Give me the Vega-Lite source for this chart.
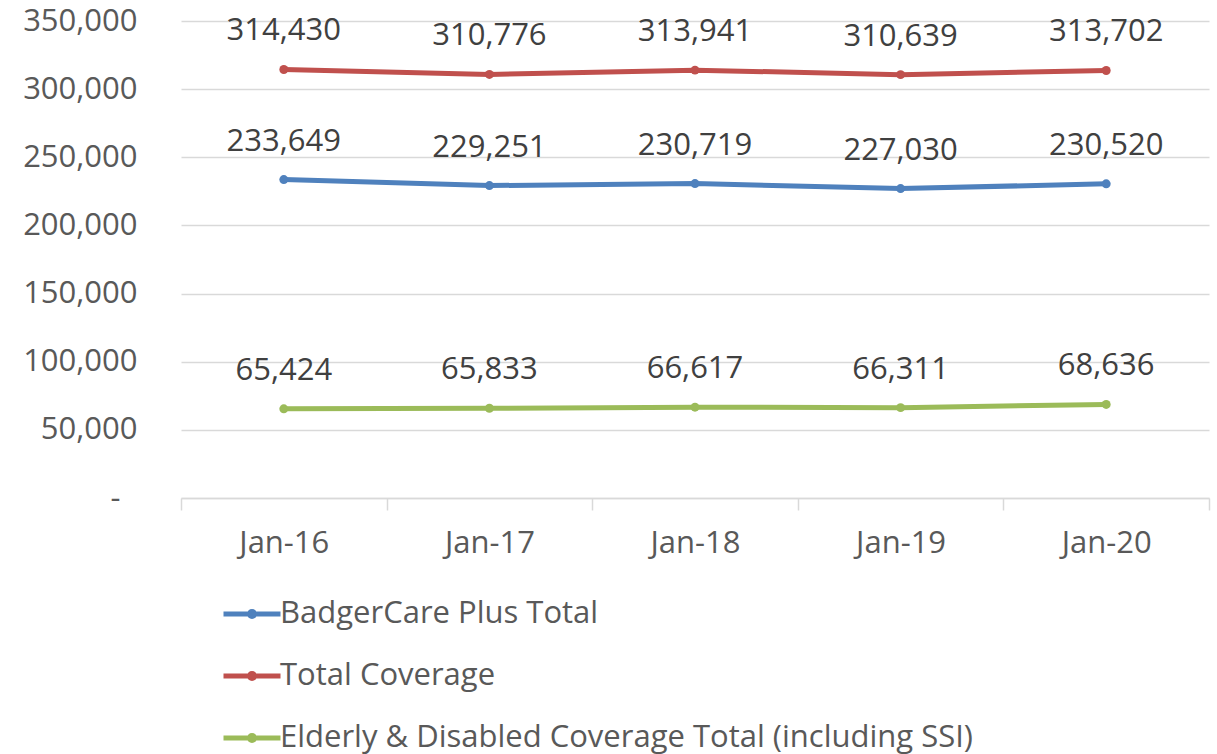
{
  "$schema": "https://vega.github.io/schema/vega-lite/v6.json",
  "autosize": {"type": "none"},
  "width": 1028,
  "height": 477,
  "padding": {"left": 181, "top": 21, "right": 8, "bottom": 256},
  "background": "white",
  "config": {
    "font": "Open Sans",
    "view": {"stroke": null}
  },
  "data": {
    "values": [
      {"month": "Jan-16", "series": "BadgerCare Plus Total", "value": 233649},
      {"month": "Jan-17", "series": "BadgerCare Plus Total", "value": 229251},
      {"month": "Jan-18", "series": "BadgerCare Plus Total", "value": 230719},
      {"month": "Jan-19", "series": "BadgerCare Plus Total", "value": 227030},
      {"month": "Jan-20", "series": "BadgerCare Plus Total", "value": 230520},
      {"month": "Jan-16", "series": "Total Coverage", "value": 314430},
      {"month": "Jan-17", "series": "Total Coverage", "value": 310776},
      {"month": "Jan-18", "series": "Total Coverage", "value": 313941},
      {"month": "Jan-19", "series": "Total Coverage", "value": 310639},
      {"month": "Jan-20", "series": "Total Coverage", "value": 313702},
      {"month": "Jan-16", "series": "Elderly & Disabled Coverage Total (including SSI)", "value": 65424},
      {"month": "Jan-17", "series": "Elderly & Disabled Coverage Total (including SSI)", "value": 65833},
      {"month": "Jan-18", "series": "Elderly & Disabled Coverage Total (including SSI)", "value": 66617},
      {"month": "Jan-19", "series": "Elderly & Disabled Coverage Total (including SSI)", "value": 66311},
      {"month": "Jan-20", "series": "Elderly & Disabled Coverage Total (including SSI)", "value": 68636}
    ]
  },
  "encoding": {
    "x": {
      "field": "month",
      "type": "ordinal",
      "bandPosition": 0.5,
      "scale": {"type": "band", "paddingInner": 0, "paddingOuter": 0},
      "axis": {
        "title": null,
        "labelAngle": 0,
        "tickBand": "extent",
        "domainColor": "#D9D9D9",
        "domainWidth": 1.5,
        "tickColor": "#D9D9D9",
        "tickWidth": 1.5,
        "tickSize": 12,
        "labelFontSize": 31,
        "labelColor": "#595959",
        "labelPadding": 18,
        "grid": false
      }
    },
    "y": {
      "field": "value",
      "type": "quantitative",
      "scale": {"domain": [0, 350000], "nice": false},
      "axis": {
        "title": null,
        "values": [0, 50000, 100000, 150000, 200000, 250000, 300000, 350000],
        "labelExpr": "datum.value == 0 ? '-' : format(datum.value, ',')",
        "domain": false,
        "ticks": false,
        "grid": true,
        "gridColor": "#D9D9D9",
        "gridWidth": 1.5,
        "labelFontSize": 31,
        "labelColor": "#595959",
        "labelPadding": {"condition": {"test": "datum.value == 0", "value": 61}, "value": 44}
      }
    },
    "color": {
      "field": "series",
      "type": "nominal",
      "scale": {
        "domain": ["BadgerCare Plus Total", "Total Coverage", "Elderly & Disabled Coverage Total (including SSI)"],
        "range": ["#4F81BD", "#C0504D", "#9BBB59"]
      },
      "legend": {
        "title": null,
        "orient": "none",
        "legendX": 40,
        "legendY": 562,
        "direction": "vertical",
        "symbolType": "M-1,0H1M-0.09,0A0.09,0.09 0 1,1 0.09,0A0.09,0.09 0 1,1 -0.09,0Z",
        "symbolSize": 3249,
        "symbolStrokeWidth": 5,
        "labelFontSize": 31,
        "labelColor": "#595959",
        "labelOffset": -3,
        "rowPadding": 16,
        "labelLimit": 1000,
        "encode": {"symbols": {"update": {"strokeWidth": {"value": 5}}}}
      }
    }
  },
  "layer": [
    {
      "mark": {"type": "line", "strokeWidth": 5, "strokeCap": "round", "strokeJoin": "round"}
    },
    {
      "mark": {"type": "point", "filled": true, "size": 80, "opacity": 1}
    },
    {
      "mark": {"type": "text", "dy": -38, "fontSize": 31, "color": "#404040", "baseline": "middle"},
      "encoding": {
        "text": {"field": "value", "type": "quantitative", "format": ","},
        "color": {"value": "#404040"}
      }
    }
  ]
}
